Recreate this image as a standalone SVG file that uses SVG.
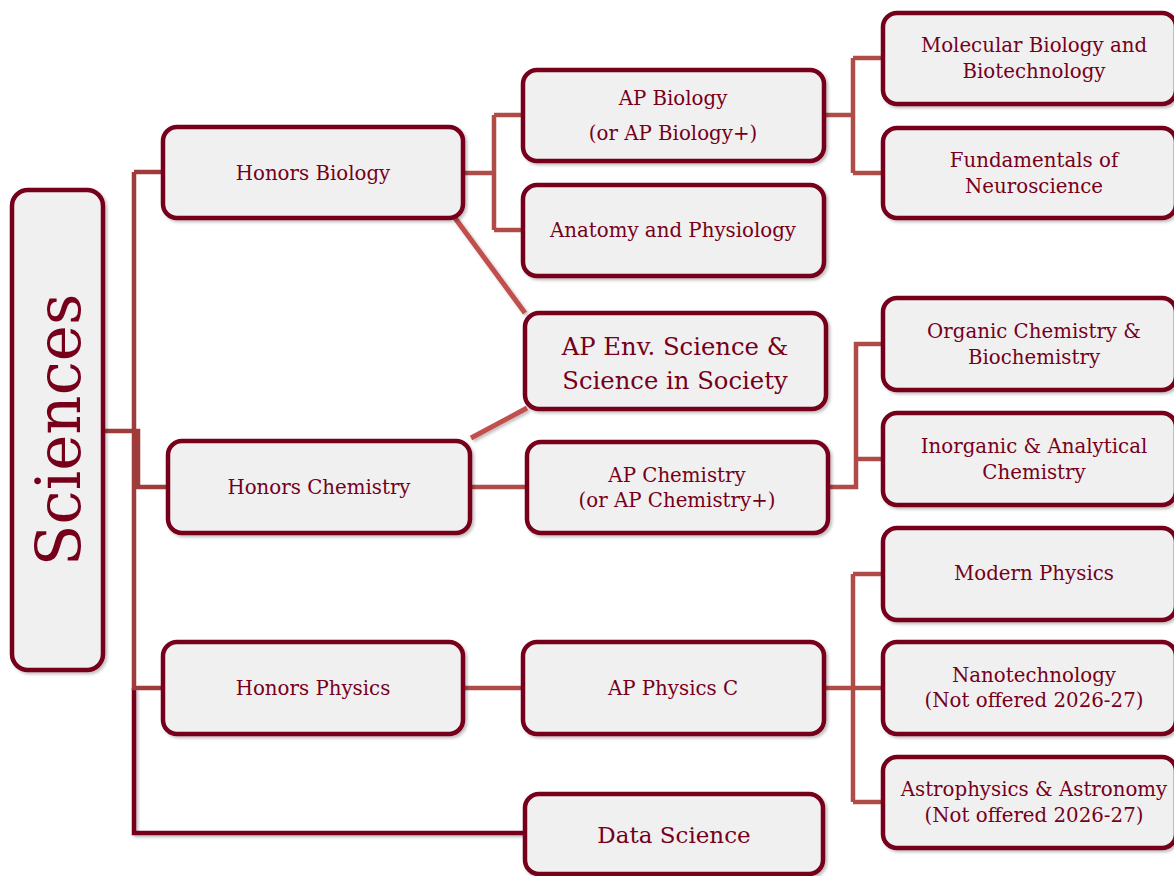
<svg xmlns="http://www.w3.org/2000/svg" width="1174" height="876" viewBox="0 0 1174 876">
<defs>
<filter id="sh" x="-10%" y="-10%" width="130%" height="130%">
<feDropShadow dx="2" dy="2" stdDeviation="1.5" flood-color="#000" flood-opacity="0.25"/>
</filter>
<style>
.box{fill:#f0f0f0;stroke:#76001a;stroke-width:4.5;filter:url(#sh)}
.t{font-family:"DejaVu Serif","Liberation Serif",serif;font-size:19.8px;fill:#76001a;text-anchor:middle}
.big{font-size:24.3px}
.c1{fill:none;stroke:#9e3b3b;stroke-width:4.5}
.c2{fill:none;stroke:#b04c48;stroke-width:4.5}
.c3{fill:none;stroke:#c0504d;stroke-width:5;filter:url(#sh)}
.c0{fill:none;stroke:#76001a;stroke-width:4.5;filter:url(#sh)}
</style>
</defs>
<rect width="1174" height="876" fill="#ffffff"/>
<g id="connectors">
<path class="c0" d="M134,688 V833 H525"/>
<path class="c1" d="M103,431 H134 M134,172 V688 H163 M134,172 H163 M134,431 H138 V487 H168"/>
<path class="c3" d="M455,218 L525,313 M471,438 L527,408"/>
<path class="c2" d="M463,173 H494 M494,115 V230 M494,115 H523 M494,230 H523"/>
<path class="c2" d="M824,115 H853 M853,58 V173 M853,58 H883 M853,173 H883"/>
<path class="c2" d="M470,487 H527"/>
<path class="c2" d="M828,487 H856 V344 H883 M856,459 H883"/>
<path class="c2" d="M463,688 H523 M824,688 H883 M853,574 V802 M853,574 H883 M853,802 H883"/>
</g>
<g id="sciences"><rect class="box" x="12" y="190" width="91" height="480" rx="16"/><text class="t" transform="translate(80,430) rotate(-90)" style="font-size:61px">Sciences</text></g>
<g id="honors-biology"><rect class="box" x="163" y="127" width="300" height="91" rx="14"/><text class="t" x="313" y="180">Honors Biology</text></g>
<g id="honors-chemistry"><rect class="box" x="168" y="441" width="302" height="92" rx="14"/><text class="t" x="319" y="494">Honors Chemistry</text></g>
<g id="honors-physics"><rect class="box" x="163" y="642" width="300" height="92" rx="14"/><text class="t" x="313" y="695">Honors Physics</text></g>
<g id="ap-biology"><rect class="box" x="523" y="70" width="301" height="91" rx="14"/><text class="t" x="673" y="105">AP Biology</text><text class="t" x="673" y="140">(or AP Biology+)</text></g>
<g id="anatomy"><rect class="box" x="523" y="185" width="301" height="91" rx="14"/><text class="t" x="673" y="237">Anatomy and Physiology</text></g>
<g id="ap-env"><rect class="box" x="525" y="313" width="301" height="96" rx="14"/><text class="t big" x="675" y="355">AP Env. Science &amp;</text><text class="t big" x="675" y="389">Science in Society</text></g>
<g id="ap-chemistry"><rect class="box" x="527" y="442" width="301" height="91" rx="14"/><text class="t" x="677" y="482">AP Chemistry</text><text class="t" x="677" y="507">(or AP Chemistry+)</text></g>
<g id="ap-physics"><rect class="box" x="523" y="642" width="301" height="92" rx="14"/><text class="t" x="673" y="695">AP Physics C</text></g>
<g id="data-science"><rect class="box" x="525" y="794" width="298" height="80" rx="14"/><text class="t" x="674" y="843" style="font-size:23px">Data Science</text></g>
<g id="molecular"><rect class="box" x="883" y="13" width="293" height="91" rx="14"/><text class="t" x="1034" y="52">Molecular Biology and</text><text class="t" x="1034" y="78">Biotechnology</text></g>
<g id="neuro"><rect class="box" x="883" y="128" width="293" height="90" rx="14"/><text class="t" x="1034" y="167">Fundamentals of</text><text class="t" x="1034" y="193">Neuroscience</text></g>
<g id="organic"><rect class="box" x="883" y="298" width="293" height="92" rx="14"/><text class="t" x="1034" y="338">Organic Chemistry &amp;</text><text class="t" x="1034" y="364">Biochemistry</text></g>
<g id="inorganic"><rect class="box" x="883" y="413" width="293" height="92" rx="14"/><text class="t" x="1034" y="453">Inorganic &amp; Analytical</text><text class="t" x="1034" y="479">Chemistry</text></g>
<g id="modern"><rect class="box" x="883" y="528" width="293" height="92" rx="14"/><text class="t" x="1034" y="580">Modern Physics</text></g>
<g id="nano"><rect class="box" x="883" y="642" width="293" height="92" rx="14"/><text class="t" x="1034" y="682">Nanotechnology</text><text class="t" x="1034" y="707">(Not offered 2026-27)</text></g>
<g id="astro"><rect class="box" x="883" y="757" width="293" height="91" rx="14"/><text class="t" x="1034" y="796">Astrophysics &amp; Astronomy</text><text class="t" x="1034" y="822">(Not offered 2026-27)</text></g>
</svg>
